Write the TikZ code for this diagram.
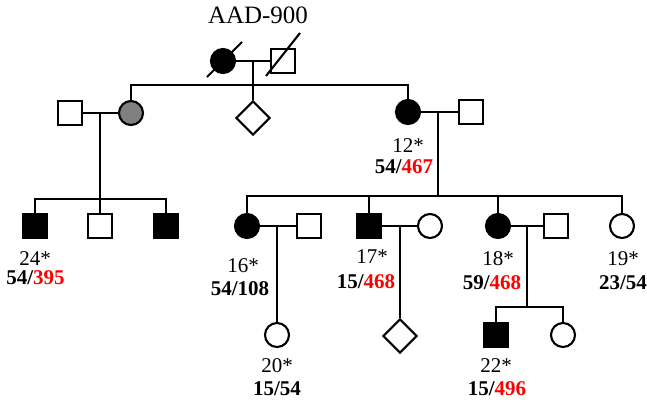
\documentclass[tikz,border=0pt]{standalone}
\usepackage{fontspec}
\setmainfont{Liberation Serif}
\usetikzlibrary{shapes.geometric}

\begin{document}
\begin{tikzpicture}[x=1pt,y=-1pt,line width=2.1pt,
  male/.style={rectangle,draw,fill=white,minimum size=24pt,inner sep=0pt},
  female/.style={circle,draw,fill=white,minimum size=24pt,inner sep=0pt},
  unknown/.style={diamond,draw,fill=white,minimum width=34pt,minimum height=34pt,inner sep=0pt},
  affected/.style={fill=black},
  carrier/.style={fill=gray},
  lab/.style={anchor=base,inner sep=0pt,font=\fontsize{21}{24}\selectfont}]
\useasboundingbox (0,0) rectangle (647,405);
\node[lab,font=\fontsize{25}{28}\selectfont] (title) at (258,23) {AAD-900};
% generation I
\coordinate (m0) at (253,61);
\coordinate (t0) at (253,85);
\draw (223,61) -- (283,61);
\node[female,affected] (gm) at (223,61) {};
\node[male] (gf) at (283,61) {};
\draw ([shift={(-16,16)}]gm.center) -- ([shift={(19,-19)}]gm.center);
\draw ([shift={(-17,15)}]gf.center) -- ([shift={(17,-28)}]gf.center);
% generation II
\node[female,carrier] (2) at (131,113) {};
\node[male] (sp2) at (70,113) {};
\node[unknown] (d1) at (253,118) {};
\node[female,affected] (12) at (408,112) {};
\node[male] (sp12) at (471,112) {};
\draw (m0) -- (t0);
\draw (t0) -- (d1.north);
\draw (2.north) |- (t0) -| (12.north);
\draw (sp2) -- (2);
\draw (12) -- (sp12);
\node[lab] (l12) at (408,152) {12*};
\node[lab] (g12) at (404,173) {\textbf{54/\textcolor{red}{467}}};
% generation III, left
\coordinate (m2) at (100,113);
\coordinate (c2) at (100,199);
\node[male,affected] (24) at (35,226) {};
\node[male] (s23) at (100,226) {};
\node[male,affected] (s25) at (166,226) {};
\draw (m2) -- (c2);
\draw (24.north) |- (c2) -| (s25.north);
\draw (c2) -- (s23.north);
\node[lab] (l24) at (35,265) {24*};
\node[lab] (g24) at (35.5,284) {\textbf{54/\textcolor{red}{395}}};
% generation III, right
\coordinate (m12) at (438,112);
\coordinate (c12) at (438,196);
\node[female,affected] (16) at (247,226) {};
\node[male] (sp16) at (309,226) {};
\node[male,affected] (17) at (369,226) {};
\node[female] (sp17) at (430,226) {};
\node[female,affected] (18) at (498,226) {};
\node[male] (sp18) at (556,226) {};
\node[female] (19) at (622,226) {};
\draw (m12) -- (c12);
\draw (16.north) |- (c12) -| (19.north);
\draw (c12 -| 17.north) -- (17.north);
\draw (c12 -| 18.north) -- (18.north);
\draw (16) -- (sp16);
\draw (17) -- (sp17);
\draw (18) -- (sp18);
\node[lab] (l16) at (243,272) {16*};
\node[lab] (g16) at (240,295) {\textbf{54/108}};
\node[lab] (l17) at (372,263) {17*};
\node[lab] (g17) at (366,288) {\textbf{15/\textcolor{red}{468}}};
\node[lab] (l18) at (498,265) {18*};
\node[lab] (g18) at (492,289) {\textbf{59/\textcolor{red}{468}}};
\node[lab] (l19) at (623,265) {19*};
\node[lab] (g19) at (623,289) {\textbf{23/54}};
% generation IV
\coordinate (m16) at (277,226);
\coordinate (m17) at (400,226);
\coordinate (m18) at (527,226);
\coordinate (c18) at (527,307);
\node[female] (20) at (277,335) {};
\node[unknown] (d17) at (400,336) {};
\node[male,affected] (22) at (496,335) {};
\node[female] (s23b) at (563,335) {};
\draw (m16) -- (20.north);
\draw (m17) -- (d17.north);
\draw (m18) -- (c18);
\draw (22.north) |- (c18) -| (s23b.north);
\node[lab] (l20) at (277,372) {20*};
\node[lab] (g20) at (277,395) {\textbf{15/54}};
\node[lab] (l22) at (496,372) {22*};
\node[lab] (g22) at (497,395) {\textbf{15/\textcolor{red}{496}}};
\end{tikzpicture}
\end{document}
